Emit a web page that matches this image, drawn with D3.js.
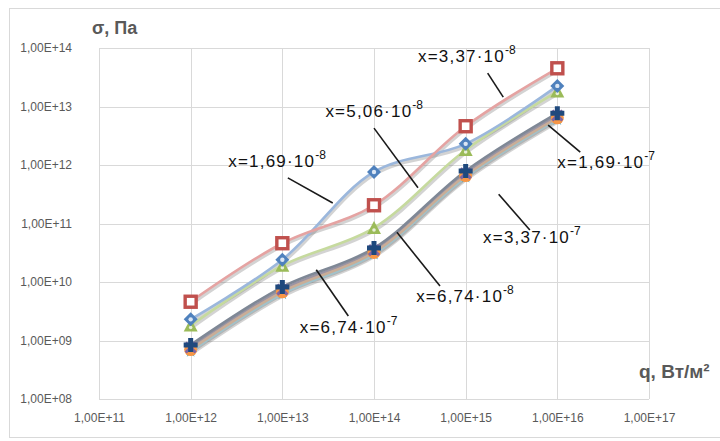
<!DOCTYPE html>
<html><head><meta charset="utf-8">
<script src="https://cdn.jsdelivr.net/npm/d3@7"></script>
<style>body{margin:0;background:#fff}svg{display:block}</style>
</head><body><svg id="c" width="720" height="441"></svg>
<script>
const qValues = [1e12, 1e13, 1e14, 1e15, 1e16];
const xTicks = [1e11, 1e12, 1e13, 1e14, 1e15, 1e16, 1e17];
const yTicks = [1e8, 1e9, 1e10, 1e11, 1e12, 1e13, 1e14];
const tickLabel = v => "1,00E+" + String(Math.round(Math.log10(v))).padStart(2, "0");

const sigma_169e8 = [2.3e9, 2.4e10, 7.6e11, 2.3e12, 2.25e13];
const sigma_337e8 = [4.6e9, 4.6e10, 2.05e11, 4.6e12, 4.5e13];
const sigma_506e8 = [1.8e9, 1.9e10, 8.4e10, 1.8e12, 1.8e13];
const sigma_674e8 = [7.6e8, 7.4e9, 3.5e10, 7.2e11, 7.0e12];
const sigma_169e7 = [6.5e8, 6.3e9, 3.0e10, 6.2e11, 6.0e12];
const sigma_337e7 = [7.0e8, 6.8e9, 3.2e10, 6.6e11, 6.4e12];
const sigma_674e7 = [8.4e8, 8.2e9, 3.8e10, 7.9e11, 7.7e12];

const series = [
  {name: "x=6,74·10", exp: "-8", values: sigma_674e8, color: "#8064A2", line: "#9a94a4", marker: "x"},
  {name: "x=1,69·10", exp: "-7", values: sigma_169e7, color: "#4BACC6", line: "#9fc3cc", marker: "star"},
  {name: "x=3,37·10", exp: "-7", values: sigma_337e7, color: "#F79646", line: "#c9ad97", marker: "circle"},
  {name: "x=6,74·10", exp: "-7", values: sigma_674e7, color: "#1F497D", line: "#7f8896", marker: "plus"},
  {name: "x=5,06·10", exp: "-8", values: sigma_506e8, color: "#9BBB59", line: "#c6da9e", marker: "triangle"},
  {name: "x=1,69·10", exp: "-8", values: sigma_169e8, color: "#4F81BD", line: "#9bb7dc", marker: "diamond"},
  {name: "x=3,37·10", exp: "-8", values: sigma_337e8, color: "#C0504D", line: "#e5a3a2", marker: "square"}
];

// annotation placement in log10 data coordinates: text anchor, leader start, leader end
const annotations = [
  {text: "x=3,37·10", exp: "-8", t: [14.48, 13.76], a: [15.24, 13.57], b: [15.41, 13.16]},
  {text: "x=5,06·10", exp: "-8", t: [13.47, 12.82], a: [14.00, 12.63], b: [14.48, 11.61]},
  {text: "x=1,69·10", exp: "-8", t: [12.41, 11.97], a: [13.06, 11.78], b: [13.55, 11.35]},
  {text: "x=1,69·10", exp: "-7", t: [16.00, 11.95], a: [15.90, 12.68], b: [16.25, 12.22]},
  {text: "x=3,37·10", exp: "-7", t: [15.19, 10.67], a: [15.36, 11.50], b: [15.70, 10.89]},
  {text: "x=6,74·10", exp: "-8", t: [14.46, 9.66], a: [14.25, 10.85], b: [14.72, 9.93]},
  {text: "x=6,74·10", exp: "-7", t: [13.19, 9.13], a: [13.37, 10.21], b: [13.72, 9.42]}
];

const svg = d3.select("#c");
const L = 99, R = 649, T = 48, B = 399;
const x = d3.scaleLog().domain([1e11, 1e17]).range([L, R]);
const y = d3.scaleLog().domain([1e8, 1e14]).range([B, T]);
const font = "'Liberation Sans', Arial, sans-serif";

svg.append("rect").attr("x", 9.5).attr("y", 8.5).attr("width", 720).attr("height", 429)
  .attr("fill", "#fff").attr("stroke", "#d9d9d9");

// gridlines
svg.append("g").selectAll("line").data(yTicks).join("line")
  .attr("x1", L).attr("x2", R).attr("y1", d => Math.round(y(d)) + 0.5).attr("y2", d => Math.round(y(d)) + 0.5)
  .attr("stroke", "#d9d9d9");
svg.append("g").selectAll("line").data(xTicks).join("line")
  .attr("y1", T).attr("y2", B).attr("x1", d => Math.round(x(d)) + 0.5).attr("x2", d => Math.round(x(d)) + 0.5)
  .attr("stroke", "#d9d9d9");

// axes labels via d3 axes
const xAxis = svg.append("g").attr("transform", `translate(0,${B})`)
  .call(d3.axisBottom(x).tickValues(xTicks).tickFormat(tickLabel).tickSize(0).tickPadding(14));
const yAxis = svg.append("g").attr("transform", `translate(${L},0)`)
  .call(d3.axisLeft(y).tickValues(yTicks).tickFormat(tickLabel).tickSize(0).tickPadding(27));
[xAxis, yAxis].forEach(g => {
  g.select(".domain").remove();
  g.selectAll("text").attr("fill", "#595959").style("font-family", font).style("font-size", "12px");
});
yAxis.selectAll("text").attr("dy", "0.32em");

// axis titles
svg.append("text").attr("x", 92).attr("y", 34).text("σ, Па")
  .attr("fill", "#595959").style("font-family", font).style("font-size", "18px").style("font-weight", "bold");
svg.append("text").attr("x", 639).attr("y", 378).text("q, Вт/м²")
  .attr("fill", "#595959").style("font-family", font).style("font-size", "19px").style("font-weight", "bold");

const lineGen = d3.line().x((d, i) => x(qValues[i])).y(d => y(d)).curve(d3.curveCatmullRom.alpha(0.5));

// shadows
const sh = svg.append("g").attr("transform", "translate(1,2)");
series.forEach(s => {
  sh.append("path").attr("d", lineGen(s.values)).attr("fill", "none")
    .attr("stroke", "#6e6e6e").attr("stroke-width", 3.5).attr("stroke-opacity", 0.3);
});
series.forEach(s => {
  svg.append("path").attr("d", lineGen(s.values)).attr("fill", "none")
    .attr("stroke", s.line).attr("stroke-width", 2.6);
});

// markers
function marker(g, type, color) {
  if (type === "square") {
    g.append("rect").attr("x", -5.5).attr("y", -5.5).attr("width", 11).attr("height", 11)
      .attr("fill", "#fff").attr("stroke", color).attr("stroke-width", 3.4);
  } else if (type === "diamond") {
    g.append("path").attr("d", "M0,-7L7,0L0,7L-7,0Z").attr("fill", color);
    g.append("circle").attr("r", 2.2).attr("fill", "#dbe6f4");
  } else if (type === "triangle") {
    g.append("path").attr("d", "M0,-7L7,6L-7,6Z").attr("fill", color);
    g.append("circle").attr("cy", 2).attr("r", 1.8).attr("fill", "#e8f0d8");
  } else if (type === "circle") {
    g.append("circle").attr("r", 6.5).attr("fill", color);
  } else if (type === "star") {
    g.append("path").attr("d", d3.symbol(d3.symbolStar, 50)()).attr("fill", color);
  } else if (type === "x") {
    g.append("path").attr("d", "M-5,-5L5,5M5,-5L-5,5").attr("stroke", color).attr("stroke-width", 3);
  } else if (type === "plus") {
    g.append("path").attr("d", "M0,-7V7M-7,0H7").attr("stroke", color).attr("stroke-width", 5);
  }
}
const markerOrder = ["star", "circle", "x", "plus", "triangle", "diamond", "square"];
markerOrder.forEach(m => {
  const s = series.find(d => d.marker === m);
  s.values.forEach((v, i) => {
    const g = svg.append("g").attr("transform", `translate(${x(qValues[i])},${y(v)})`);
    marker(g, m, s.color);
  });
});

// annotations
const P = p => [x(10 ** p[0]), y(10 ** p[1])];
annotations.forEach(a => {
  const [ax, ay] = P(a.a), [bx, by] = P(a.b), [tx, ty] = P(a.t);
  svg.append("line").attr("x1", ax).attr("y1", ay).attr("x2", bx).attr("y2", by)
    .attr("stroke", "#1a1a1a").attr("stroke-width", 1.6);
  const t = svg.append("text").attr("x", tx).attr("y", ty).attr("fill", "#111")
    .style("font-family", font).style("font-size", "17px").style("letter-spacing", "1.2px");
  t.append("tspan").text(a.text);
  t.append("tspan").attr("dy", -8).style("font-size", "12px").style("letter-spacing", "0px").text(a.exp);
});
</script></body></html>
